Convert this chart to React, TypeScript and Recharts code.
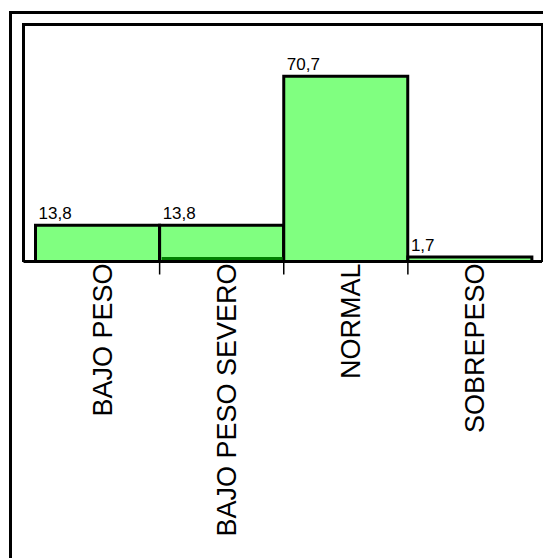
import React from 'react';
import { BarChart, Bar, XAxis, YAxis, LabelList } from 'recharts';

// Estado nutricional: porcentaje por categoría
const categorias = ['BAJO PESO', 'BAJO PESO SEVERO', 'NORMAL', 'SOBREPESO'];
const porcentajes = [13.8, 13.8, 70.7, 1.7];
// franja oscura en la base de la segunda columna
const franjaBase: (number | null)[] = [null, 1.7, null, null];
// divisiones entre categorías
const divisiones = [1, 2, 3];

const datos = categorias.map((nombre, i) => ({
  nombre,
  indice: i + 0.5,
  valor: porcentajes[i],
  franja: franjaBase[i],
}));

const FUENTE = '"Liberation Sans", Arial, sans-serif';
const ANCHO = 543;
const ALTO = 558;

const formatoComa = (v: number) => v.toFixed(1).replace('.', ',');

const EtiquetaValor = (props: any) => {
  const { x, y, value } = props;
  return (
    <text x={Number(x) + 3} y={Number(y) - 6} fontSize={17} fontFamily={FUENTE} fill="#000" textAnchor="start">
      {formatoComa(Number(value))}
    </text>
  );
};

const EtiquetaEje = (props: any) => {
  const { x, y, payload } = props;
  return (
    <g transform={`translate(${x},${y})`}>
      <text transform="rotate(-90)" x={-2} y={14} textAnchor="end" fontSize={27} fontFamily={FUENTE} fill="#000">
        {payload.value}
      </text>
    </g>
  );
};

const SinEtiqueta = () => <g />;

export default function App() {
  const relleno = { left: 12, right: 10 };
  return (
    <div style={{ position: 'fixed', left: 0, top: 0, width: ANCHO, height: ALTO, overflow: 'hidden', background: '#fff' }}>
      {/* marco exterior */}
      <div style={{ position: 'absolute', left: 9, top: 11, width: 700, height: 700, border: '3px solid #000', boxSizing: 'border-box' }} />
      {/* marco del área de trazado (el eje cierra la base) */}
      <div style={{ position: 'absolute', left: 22, top: 23, width: 522, height: 239, borderLeft: '3px solid #000', borderTop: '3px solid #000', borderRight: '3px solid #000', boxSizing: 'border-box' }} />
      <div style={{ position: 'absolute', left: 0, top: 0 }}>
        <BarChart
          width={ANCHO}
          height={ALTO}
          data={datos}
          margin={{ top: 24.5, right: 1, bottom: 294.5, left: 23.5 }}
          barCategoryGap={0}
          barGap={0}
        >
          <YAxis hide domain={[0, 90.5]} allowDataOverflow />
          <Bar xAxisId="cat" dataKey="valor" fill="#80FF80" stroke="#000" strokeWidth={3} isAnimationActive={false}>
            <LabelList dataKey="valor" content={EtiquetaValor} />
          </Bar>
          <Bar xAxisId="franja" dataKey="franja" fill="#008000" barSize={121} isAnimationActive={false} />
          <XAxis xAxisId="franja" dataKey="nombre" hide height={0} padding={relleno} />
          <XAxis
            xAxisId="lim"
            dataKey="indice"
            type="number"
            domain={[0, 4]}
            ticks={divisiones}
            allowDataOverflow
            interval={0}
            tick={SinEtiqueta}
            axisLine={false}
            tickLine={{ stroke: '#000', strokeWidth: 1.5 }}
            tickSize={12}
            height={1}
            padding={relleno}
          />
          <XAxis
            xAxisId="cat"
            dataKey="nombre"
            interval={0}
            padding={relleno}
            axisLine={{ stroke: '#000', strokeWidth: 3 }}
            tickLine={false}
            tickSize={0}
            tickMargin={0}
            height={1}
            tick={EtiquetaEje}
          />
        </BarChart>
      </div>
    </div>
  );
}
